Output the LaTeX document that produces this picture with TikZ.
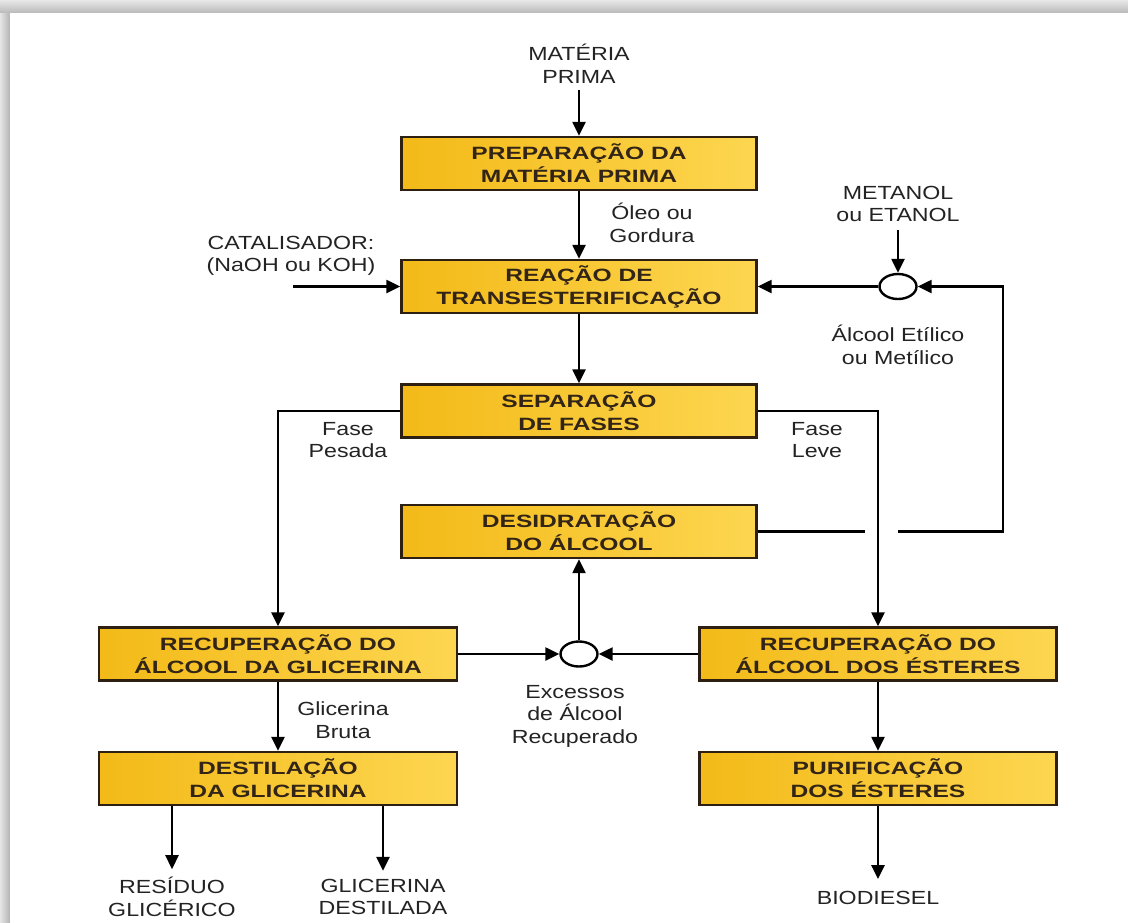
\documentclass[tikz,border=0pt]{standalone}
\usepackage{fontspec}
\usetikzlibrary{arrows.meta,shapes.geometric}
\newfontfamily\boxfont{Liberation Sans}[FakeStretch=1.38]
\newfontfamily\lblfont{Liberation Sans}[FakeStretch=1.22]
\definecolor{boxtext}{RGB}{50,36,22}
\definecolor{lbltext}{RGB}{35,35,35}
\definecolor{boxline}{RGB}{45,32,18}
\definecolor{yelL}{RGB}{243,186,24}
\definecolor{yelM}{RGB}{248,198,36}
\definecolor{yelR}{RGB}{253,214,80}
\tikzset{
  pbox/.style={draw=boxline, line width=2.4pt, left color=yelL, middle color=yelM, right color=yelR,
    minimum width=355pt, minimum height=53pt, inner sep=0pt, align=center,
    font=\boxfont\bfseries\fontsize{17.8}{23}\selectfont, text=boxtext},
  lbl/.style={align=center, inner sep=0pt, font=\lblfont\fontsize{19}{22.5}\selectfont, text=lbltext},
  mix/.style={ellipse, draw=black, line width=2.4pt, fill=white, minimum width=37pt, minimum height=25pt, inner sep=0pt},
  arr/.style={line width=2.4pt, draw=black, -{Triangle[length=14pt,width=13pt]}},
  ln/.style={line width=2.4pt, draw=black}
}
\begin{document}
\begin{tikzpicture}[x=1pt,y=-1pt]
\useasboundingbox (0,0) rectangle (1128,922);
% frame
\fill[gray!35] (0,0) rectangle (1128,922);
\shade[top color=gray!18, bottom color=gray!55] (0,0) rectangle (1128,13);
\shade[left color=gray!20, right color=gray!60] (0,13) rectangle (10,922);
\fill[white] (10,13) rectangle (1128,922);

% nodes
\node[lbl] (mp) at (579,64) {MATÉRIA\\PRIMA};
\node[pbox] (prep) at (579,163.5) {PREPARAÇÃO DA\\MATÉRIA PRIMA};
\node[lbl] (oleo) at (652,223) {Óleo ou\\Gordura};
\node[pbox] (reac) at (579,286.5) {REAÇÃO DE\\TRANSESTERIFICAÇÃO};
\node[lbl] (cat) at (291,256) {CATALISADOR:\\(NaOH ou KOH)};
\coordinate (catS) at (293,286.5);
\node[lbl] (met) at (898,204) {METANOL\\ou ETANOL};
\node[mix] (m1) at (898,286.5) {};
\node[lbl] (alc) at (898,345) {Álcool Etílico\\ou Metílico};
\node[pbox] (sep) at (579,411) {SEPARAÇÃO\\DE FASES};
\node[lbl] (fp) at (348,440) {Fase\\Pesada};
\node[lbl] (fl) at (817,440) {Fase\\Leve};
\node[pbox] (des) at (579,531.5) {DESIDRATAÇÃO\\DO ÁLCOOL};
\node[pbox, minimum width=358pt] (rg) at (278,654) {RECUPERAÇÃO DO\\ÁLCOOL DA GLICERINA};
\node[mix] (m2) at (579,654) {};
\node[lbl] (exc) at (575,716) {Excessos\\de Álcool\\Recuperado};
\node[pbox, minimum width=357pt] (re) at (878,654) {RECUPERAÇÃO DO\\ÁLCOOL DOS ÉSTERES};
\node[lbl] (gb) at (343,720) {Glicerina\\Bruta};
\node[pbox, minimum width=358pt] (dg) at (278,778.5) {DESTILAÇÃO\\DA GLICERINA};
\node[pbox, minimum width=357pt] (pe) at (878,778.5) {PURIFICAÇÃO\\DOS ÉSTERES};
\node[lbl] (res) at (172,897) {RESÍDUO\\GLICÉRICO};
\node[lbl] (gd) at (383,897) {GLICERINA\\DESTILADA};
\node[lbl] (bio) at (878,898) {BIODIESEL};

\coordinate (g1) at (865,531.5);
\coordinate (g2) at (898,531.5);
\coordinate (rc) at (1003,531.5);

% connectors
\draw[arr] ([yshift=-6pt]mp.south) -- (prep.north);
\draw[arr] (prep) -- (reac);
\draw[arr] (catS) -- (catS -| reac.west);
\draw[arr] ([yshift=-8pt]met.south) -- (m1.north);
\draw[arr] (m1.west) -- (m1.west -| reac.east);
\draw[arr] (reac) -- (sep);
\draw[arr] (sep.west) -| (rg.north);
\draw[arr] (sep.east) -| (re.north);
\draw[ln] (des.east) -- (g1);
\draw[arr] (g2) -- (rc) |- (m1.east);
\draw[arr] (rg.east) -- (m2.west);
\draw[arr] (re.west) -- (m2.east);
\draw[arr] (m2.north) -- (des.south);
\draw[arr] (rg) -- (dg);
\draw[arr] (re) -- (pe);
\draw[arr] (dg.south -| res) -- ([yshift=8pt]res.north);
\draw[arr] (dg.south -| gd) -- ([yshift=8pt]gd.north);
\draw[arr] (pe) -- ([yshift=12pt]bio.north);
\end{tikzpicture}
\end{document}
